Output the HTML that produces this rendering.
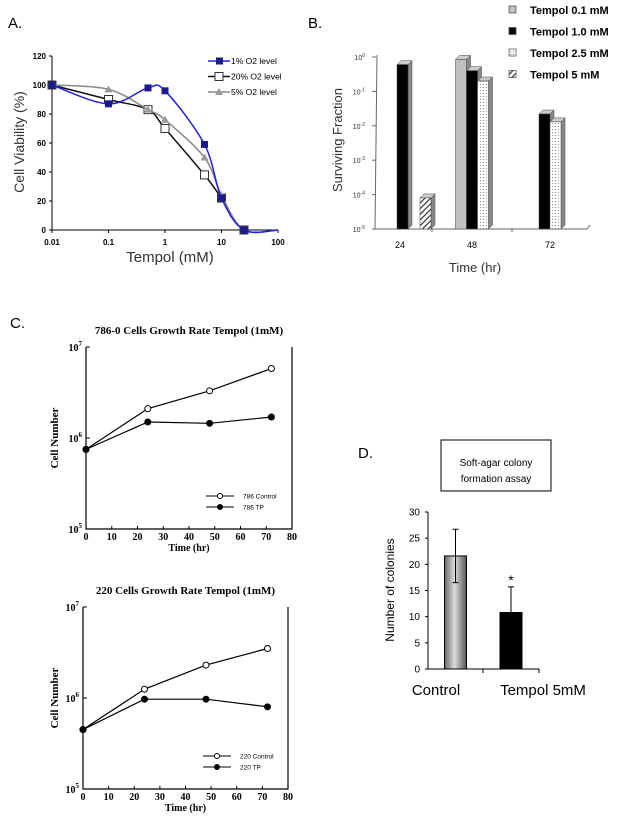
<!DOCTYPE html>
<html><head><meta charset="utf-8"><style>
body{margin:0;background:#fff}
svg{display:block;font-family:"Liberation Sans",Arial,sans-serif}
.serif{font-family:"Liberation Serif",serif;font-weight:bold}
</style></head><body>
<svg id="fig" width="620" height="822" viewBox="0 0 620 822" xmlns="http://www.w3.org/2000/svg">
<defs>
<pattern id="dots" width="3" height="3" patternUnits="userSpaceOnUse"><rect width="3" height="3" fill="#fff"/><rect width="1" height="1" fill="#888"/></pattern>
<pattern id="hatch" width="4" height="4" patternUnits="userSpaceOnUse" patternTransform="rotate(45)"><rect width="4" height="4" fill="#fff"/><rect width="1.2" height="4" fill="#333"/></pattern>
<linearGradient id="gbar" x1="0" x2="1"><stop offset="0" stop-color="#666"/><stop offset="0.45" stop-color="#ddd"/><stop offset="1" stop-color="#555"/></linearGradient>
</defs>
<g id="A"></g>
<g id="B"></g>
<g id="C1"></g>
<g id="C2"></g>
<g id="D"></g>
</svg>
<script>
// Panel A data
const aDoses=[0.01,0.1,0.5,1,5,10,25,100];
const a1=[100,87,98,96,59,22,0,0];
const a20=[100,90,83,70,38,22,0,0];
const a5=[100,97,83,76,50,24,0,0];
const aYTicks=[0,20,40,60,80,100,120];
const aXTicks=["0.01","0.1","1","10","100"];
// Panel B data
const bCats=["24","48","72"];
const bSeries=["Tempol 0.1 mM","Tempol 1.0 mM","Tempol 2.5 mM","Tempol 5 mM"];
const b01=[null,0.85,null];
const b10=[0.6,0.4,0.022];
const b25=[null,0.2,0.013];
const b50=[8e-5,null,null];
// Panel C data
const cTimes=[0,24,48,72];
const c786Ctrl=[7.5e5,2.1e6,3.3e6,5.8e6];
const c786TP=[7.5e5,1.5e6,1.45e6,1.7e6];
const c220Ctrl=[4.5e5,1.25e6,2.3e6,3.5e6];
const c220TP=[4.5e5,9.7e5,9.7e5,8e5];
const cXTicks=[0,10,20,30,40,50,60,70,80];
// Panel D data
const dCats=["Control","Tempol 5mM"];
const dVals=[21.6,10.8];
const dErr=[5.1,4.9];
const dYTicks=[0,5,10,15,20,25,30];

const NS="http://www.w3.org/2000/svg";
function el(p,tag,at,txt){const e=document.createElementNS(NS,tag);for(const k in at)e.setAttribute(k,at[k]);if(txt!==undefined)e.textContent=txt;p.appendChild(e);return e;}
function smooth(pts){let d=`M${pts[0][0]},${pts[0][1]}`;
 for(let i=0;i<pts.length-1;i++){const p0=pts[i-1]||pts[i],p1=pts[i],p2=pts[i+1],p3=pts[i+2]||p2;
  const c1=[p1[0]+(p2[0]-p0[0])/6,p1[1]+(p2[1]-p0[1])/6],c2=[p2[0]-(p3[0]-p1[0])/6,p2[1]-(p3[1]-p1[1])/6];
  d+=`C${c1[0]},${c1[1]} ${c2[0]},${c2[1]} ${p2[0]},${p2[1]}`;}
 return d;}

// ---------- Panel A ----------
(function(){
const g=document.getElementById('A');
const X=v=>52+(Math.log10(v)+2)*56.5, Y=v=>230-v*174/120;
let t=el(g,'text',{x:8,y:28,'font-size':15},'A.');

let ax=el(g,'path',{d:`M52,${Y(120)}V230H278`,stroke:'#000',fill:'none'});

aYTicks.forEach(v=>{el(g,'line',{x1:49,x2:52,y1:Y(v),y2:Y(v),stroke:'#000'});
 let l=el(g,'text',{x:46,y:Y(v)+3,'font-size':8,'text-anchor':'end','font-weight':'bold'},v);
 });
aXTicks.forEach(s=>{const x=X(+s);el(g,'line',{x1:x,x2:x,y1:230,y2:233,stroke:'#000'});
 let l=el(g,'text',{x:x,y:245,'font-size':8,'text-anchor':'middle','font-weight':'bold'},s);
 });
t=el(g,'text',{x:170,y:262,'font-size':15,'text-anchor':'middle',fill:'#333'},'Tempol (mM)');

t=el(g,'text',{x:24,y:142,'font-size':14,'text-anchor':'middle',fill:'#333',transform:'rotate(-90 24 142)'},'Cell Viability (%)');

function series(d,color,mk,name){
 const pts=aDoses.map((v,i)=>[X(v),Y(d[i])]);
 let p=el(g,'path',{d:smooth(pts),stroke:color,fill:'none','stroke-width':1.5});
 
 pts.slice(0,7).forEach(q=>{let m;
  if(mk==='sq')m=el(g,'rect',{x:q[0]-3.5,y:q[1]-3.5,width:7,height:7,fill:'#1a1a8c'});
  else if(mk==='open')m=el(g,'rect',{x:q[0]-4,y:q[1]-4,width:8,height:8,fill:'#fff',stroke:'#333'});
  else m=el(g,'polygon',{points:`${q[0]},${q[1]-4} ${q[0]-4},${q[1]+3} ${q[0]+4},${q[1]+3}`,fill:'#999'});
  });
}
series(a20,'#111','open','a-20pct');
series(a5,'#888','tri','a-5pct');
series(a1,'#2222dd','sq','a-1pct');
const leg=[['1% O2 level','#2222dd','sq'],['20% O2 level','#111','open'],['5% O2 level','#888','tri']];
leg.forEach((L,i)=>{const y=61+i*15.5;
 el(g,'line',{x1:208,x2:230,y1:y,y2:y,stroke:L[1],'stroke-width':1.5});
 if(L[2]==='sq')el(g,'rect',{x:216,y:y-3.5,width:7,height:7,fill:'#1a1a8c'});
 else if(L[2]==='open')el(g,'rect',{x:215,y:y-4,width:8,height:8,fill:'#fff',stroke:'#333'});
 else el(g,'polygon',{points:`219,${y-4} 215,${y+3} 223,${y+3}`,fill:'#999'});
 let l=el(g,'text',{x:231,y:y+3,'font-size':8.5},L[0]);
 });
})();

// ---------- Panel B ----------
(function(){
const g=document.getElementById('B');
const Y=v=>57+(-Math.log10(v))*34.4, base=229;
const cx=[400,472,550];
let t=el(g,'text',{x:308,y:28,'font-size':15},'B.');

let ax=el(g,'path',{d:`M377,55L375,${base}H587l3,-4`,stroke:'#666',fill:'none'});

for(let k=0;k<=5;k++){const y=57+k*34.4;el(g,'line',{x1:372,x2:376,y1:y,y2:y,stroke:'#666'});
 let l=el(g,'text',{x:365,y:y+3,'font-size':7,'text-anchor':'end',fill:'#333'});
 l.textContent='10';el(l,'tspan',{dy:-3,'font-size':5},k?'-'+k:'0');
 }
bCats.forEach((c,i)=>{let l=el(g,'text',{x:cx[i],y:248,'font-size':9,'text-anchor':'middle'},c);
 });
[432,512].forEach(x=>el(g,'line',{x1:x,x2:x,y1:base,y2:base+3,stroke:'#666'}));
t=el(g,'text',{x:475,y:272,'font-size':13,'text-anchor':'middle',fill:'#333'},'Time (hr)');

t=el(g,'text',{x:342,y:140,'font-size':13,'text-anchor':'middle',fill:'#333',transform:'rotate(-90 342 140)'},'Surviving Fraction');

const fills=['#c0c0c0','#000','url(#dots)','url(#hatch)'];
const data=[b01,b10,b25,b50];
function bar(x,v,f,name){const y=Y(v),w=11,d=4;
 el(g,'polygon',{points:`${x+w},${y} ${x+w+d},${y-4} ${x+w+d},${base-4} ${x+w},${base}`,fill:'#888',stroke:'#444','stroke-width':0.5});
 el(g,'polygon',{points:`${x},${y} ${x+d},${y-4} ${x+w+d},${y-4} ${x+w},${y}`,fill:'#ccc',stroke:'#444','stroke-width':0.5});
 let r=el(g,'rect',{x:x,y:y,width:w,height:base-y,fill:f,stroke:'#444','stroke-width':0.5});
 }
bCats.forEach((c,i)=>{
 const present=data.map((s,j)=>s[i]!=null?j:-1).filter(j=>j>=0);
 present.forEach((j,k)=>{
  let x = i===0 ? cx[i]-3+k*23 : cx[i]-present.length*11/2+k*11;
  bar(x,data[j][i],fills[j],'b-bar-'+c+'-'+j);});
});
bSeries.forEach((s,i)=>{const y=10+i*21.5;
 el(g,'rect',{x:509,y:y-4,width:7,height:7,fill:fills[i],stroke:'#444','stroke-width':0.7});
 let l=el(g,'text',{x:530,y:y+4,'font-size':11,'font-weight':'bold'},s);
 });
})();

// ---------- Panel C ----------
function panelC(id,top,x0,x1,title,ctrl,tp,lab){
 const g=document.getElementById(id);
 const yT=top,yB=top+182;
 const X=v=>x0+v*(x1-x0)/80, Y=v=>yB-(Math.log10(v)-5)*(yB-yT)/2;
 let ax=el(g,'path',{d:`M${x0},${yT}V${yB}H${x1}V${yT}`,stroke:'#000',fill:'none','stroke-width':1.2});
 
 let t=el(g,'text',{x:(x0+x1)/2,y:top-13,'font-size':11,'text-anchor':'middle',class:'serif'},title);
 
 cXTicks.forEach(v=>{const x=X(v);el(g,'line',{x1:x,x2:x,y1:yB,y2:yB-3,stroke:'#000'});
  let l=el(g,'text',{x:x,y:yB+11,'font-size':10,'text-anchor':'middle',class:'serif'},v);
  });
 [5,6,7].forEach(k=>{const y=Y(Math.pow(10,k));el(g,'line',{x1:x0,x2:x0+4,y1:y,y2:y,stroke:'#000'});
  let l=el(g,'text',{x:x0-4,y:y+4,'font-size':10,'text-anchor':'end',class:'serif'},'10');
  el(l,'tspan',{dy:-5,'font-size':7},k);
  });
 t=el(g,'text',{x:(x0+x1)/2,y:yB+22,'font-size':10,'text-anchor':'middle',class:'serif'},'Time (hr)');
 
 const cy=(yT+yB)/2;
 t=el(g,'text',{x:58,y:cy,'font-size':11,'text-anchor':'middle',class:'serif',transform:`rotate(-90 58 ${cy})`},'Cell Number');
 
 [[ctrl,'#fff','control'],[tp,'#000','tp']].forEach(S=>{
  const pts=cTimes.map((v,i)=>[X(v),Y(S[0][i])]);
  let p=el(g,'polyline',{points:pts.map(q=>q.join(',')).join(' '),stroke:'#000',fill:'none','stroke-width':1.2});
  
  pts.forEach(q=>{let c=el(g,'circle',{cx:q[0],cy:q[1],r:3,fill:S[1],stroke:'#000'});
   });
 });
 const ly=yB-33;
 [[lab+' Control','#fff'],[lab+' TP','#000']].forEach((L,i)=>{const y=ly+i*11;
  el(g,'line',{x1:x0+120,x2:x0+148,y1:y,y2:y,stroke:'#000'});
  el(g,'circle',{cx:x0+134,cy:y,r:2.5,fill:L[1],stroke:'#000'});
  let l=el(g,'text',{x:x0+157,y:y+2.5,'font-size':6.5},L[0]);
  });
}
(function(){let t=el(document.getElementById('C1'),'text',{x:10,y:328,'font-size':15},'C.');
 })();
panelC('C1',347,86,292,'786-0 Cells Growth Rate Tempol (1mM)',c786Ctrl,c786TP,'786');
panelC('C2',607,83,288,'220 Cells Growth Rate Tempol (1mM)',c220Ctrl,c220TP,'220');

// ---------- Panel D ----------
(function(){
const g=document.getElementById('D');
const Y=v=>669-v*157/30, cx=[455.5,511];
let t=el(g,'text',{x:358,y:458,'font-size':15},'D.');

let b=el(g,'rect',{x:441,y:440,width:110,height:51,fill:'#fff',stroke:'#000'});

t=el(g,'text',{x:496,y:466,'font-size':10,'text-anchor':'middle'},'Soft-agar colony');

el(g,'text',{x:496,y:482,'font-size':10,'text-anchor':'middle'},'formation assay');
let ax=el(g,'path',{d:`M428,${Y(30)}V669H539`,stroke:'#000',fill:'none'});

[483,539].forEach(x=>el(g,'line',{x1:x,x2:x,y1:669,y2:673,stroke:'#000'}));
dYTicks.forEach(v=>{el(g,'line',{x1:425,x2:428,y1:Y(v),y2:Y(v),stroke:'#000'});
 let l=el(g,'text',{x:420,y:Y(v)+3.5,'font-size':10,'text-anchor':'end'},v);
 });
t=el(g,'text',{x:394,y:590,'font-size':12,'text-anchor':'middle',transform:'rotate(-90 394 590)'},'Number of colonies');

const fills=['url(#gbar)','#000'];
dCats.forEach((c,i)=>{const w=22,x=cx[i]-w/2;
 let r=el(g,'rect',{x:x,y:Y(dVals[i]),width:w,height:669-Y(dVals[i]),fill:fills[i],stroke:'#000'});
 
 let e=el(g,'path',{d:`M${cx[i]},${Y(dVals[i]-(i?0:dErr[i]))}V${Y(dVals[i]+dErr[i])}M${cx[i]-3},${Y(dVals[i]+dErr[i])}h6`+(i?'':`M${cx[i]-3},${Y(dVals[i]-dErr[i])}h6`),stroke:'#000',fill:'none'});
 
 let l=el(g,'text',{x:i?543:436,y:695,'font-size':15,'text-anchor':'middle'},c);
 });
t=el(g,'text',{x:511,y:585,'font-size':14,'text-anchor':'middle'},'*');

})();
</script>
</body></html>
